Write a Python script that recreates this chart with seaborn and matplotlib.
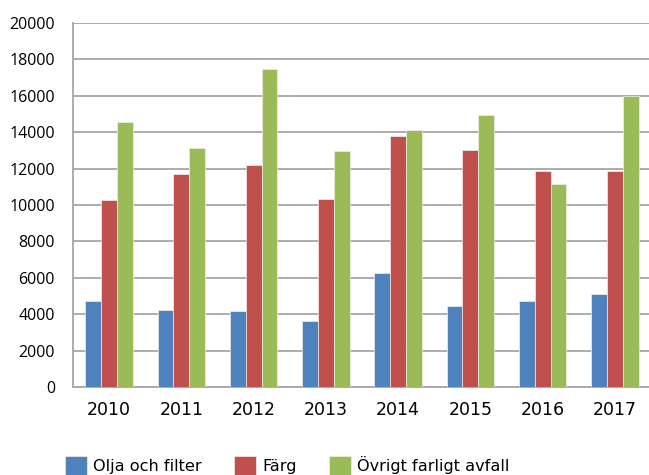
import pandas as pd
import numpy as np
import matplotlib.pyplot as plt
import seaborn as sns

years = ["2010", "2011", "2012", "2013", "2014", "2015", "2016", "2017"]
olja = [4750, 4250, 4200, 3650, 6250, 4450, 4750, 5100]
farg = [10250, 11700, 12200, 10350, 13800, 13000, 11850, 11850]
ovrigt = [14550, 13150, 17450, 12950, 14100, 14950, 11150, 16000]
series = ["Olja och filter", "Färg", "Övrigt farligt avfall"]
colors = ["#4F81BD", "#C0504D", "#9BBB59"]
y_ticks = list(range(0, 20001, 2000))

df = pd.DataFrame({
    "year": years * 3,
    "value": olja + farg + ovrigt,
    "series": [series[0]] * 8 + [series[1]] * 8 + [series[2]] * 8,
})

sns.set_style("white")
plt.rcParams["font.family"] = ["DejaVu Sans"]
plt.rcParams["text.color"] = "black"
plt.rcParams["xtick.labelcolor"] = "black"
plt.rcParams["ytick.labelcolor"] = "black"

fig = plt.figure(figsize=(6.49, 4.75), dpi=100)
ax = fig.add_axes([73 / 649, 88 / 475, 578 / 649, 364 / 475])

sns.barplot(data=df, x="year", y="value", hue="series", palette=colors,
            width=0.66, ax=ax, saturation=1, edgecolor="#eef0ea", linewidth=0.5,
            zorder=3)

ax.set_xlim(-0.5, 7.5)
ax.set_ylim(0, 20000)
ax.set_yticks(y_ticks)
ax.set_yticklabels([str(v) for v in y_ticks], family="Open Sans", fontsize=11.5)
ax.set_xlabel("")
ax.set_ylabel("")
ax.grid(axis="y", color="#a6a6a6", linewidth=1.3, zorder=0)
ax.set_axisbelow(True)

for side in ["top", "right"]:
    ax.spines[side].set_visible(False)
for side in ["left", "bottom"]:
    ax.spines[side].set_color("#a6a6a6")
    ax.spines[side].set_linewidth(1.3)

ax.tick_params(axis="y", length=3.6, width=1.3, color="#a6a6a6", pad=9.4)
ax.tick_params(axis="x", length=0, pad=10, labelsize=12.5)

ax.legend(loc="upper left", bbox_to_anchor=(65 / 649, 19 / 475),
          bbox_transform=fig.transFigure, ncol=3, frameon=False,
          fontsize=11.6, borderpad=0, borderaxespad=0, handlelength=1.35,
          handleheight=1.5, handletextpad=0.4, columnspacing=2.0)

fig.savefig("out.png", dpi=100)
